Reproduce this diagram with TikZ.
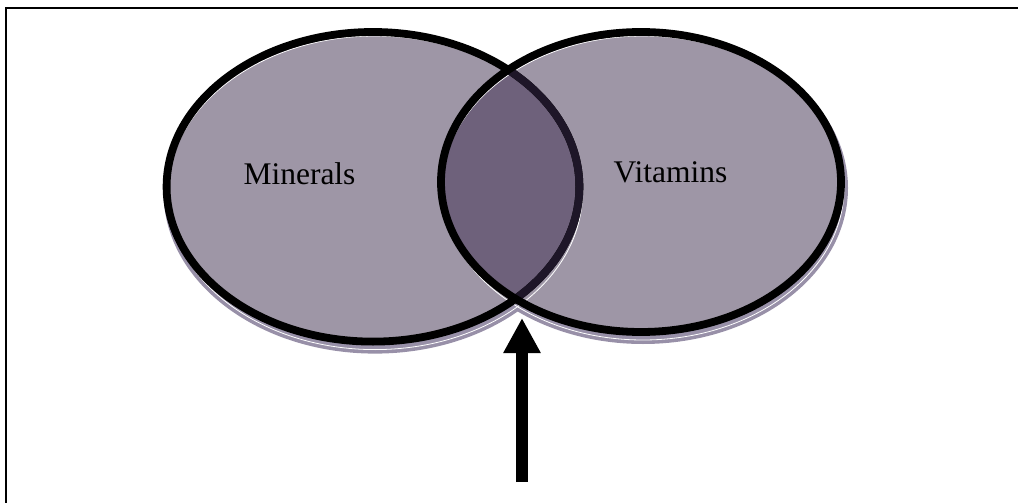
\documentclass[tikz,border=0pt]{standalone}
\usepackage{fontspec}
\setmainfont{Liberation Serif}
\usetikzlibrary{arrows.meta}
\definecolor{setfill}{RGB}{158,150,166}
\definecolor{overlapfill}{RGB}{110,97,123}
\definecolor{hiddenedge}{RGB}{30,22,40}
\definecolor{shadowcol}{RGB}{152,144,168}
\tikzset{
  setedge/.style={draw=black, line width=7.8pt},
  shadowshape/.style={fill=shadowcol, draw=shadowcol, line width=8pt},
  shadowline/.style={draw=white, line width=0.8pt},
  label/.style={font=\fontsize{31.5}{36}\selectfont, anchor=base, inner sep=0pt},
  bigarrow/.style={line width=12pt, -{Triangle[width=35pt,length=35pt]}},
  frame/.style={line width=2pt}
}
\begin{document}
\begin{tikzpicture}[x=1pt,y=-1pt]
\useasboundingbox (0,0) rectangle (1018,503);
% frame (top and left edges only)
\draw[frame] (6,503) -- (6,8) -- (1018,8);
% centres
\coordinate (L) at (373,186.8);
\coordinate (R) at (641,182);
\coordinate (Ls) at (375,192.8);
\coordinate (Rs) at (643,188);
% shadows
\path[shadowshape] (Ls) ellipse [x radius=207.4, y radius=156.8];
\path[shadowshape] (Rs) ellipse [x radius=201, y radius=152];
% fills
\fill[setfill] (L) ellipse [x radius=206.4, y radius=154.8];
\fill[setfill] (R) ellipse [x radius=200, y radius=150];
\begin{scope}
  \clip (L) ellipse [x radius=206.4, y radius=154.8];
  \fill[overlapfill] (R) ellipse [x radius=200, y radius=150];
\end{scope}
% highlight lines
\path[shadowline] (Ls) ellipse [x radius=207.4, y radius=156.8];
\path[shadowline] (Rs) ellipse [x radius=201, y radius=152];
% outlines
\path[setedge] (L) ellipse [x radius=206.4, y radius=154.8];
\begin{scope}
  \clip (R) ellipse [x radius=200, y radius=150];
  \path[setedge, draw=hiddenedge] (L) ellipse [x radius=206.4, y radius=154.8];
\end{scope}
\path[setedge] (R) ellipse [x radius=200, y radius=150];
% labels
\node[label] (minerals) at (299.5,184) {Minerals};
\node[label] (vitamins) at (670.5,182) {Vitamins};
% arrow
\coordinate (arrowtail) at (522,482);
\coordinate (arrowtip) at (522,318);
\draw[bigarrow] (arrowtail) -- (arrowtip);
\end{tikzpicture}
\end{document}
